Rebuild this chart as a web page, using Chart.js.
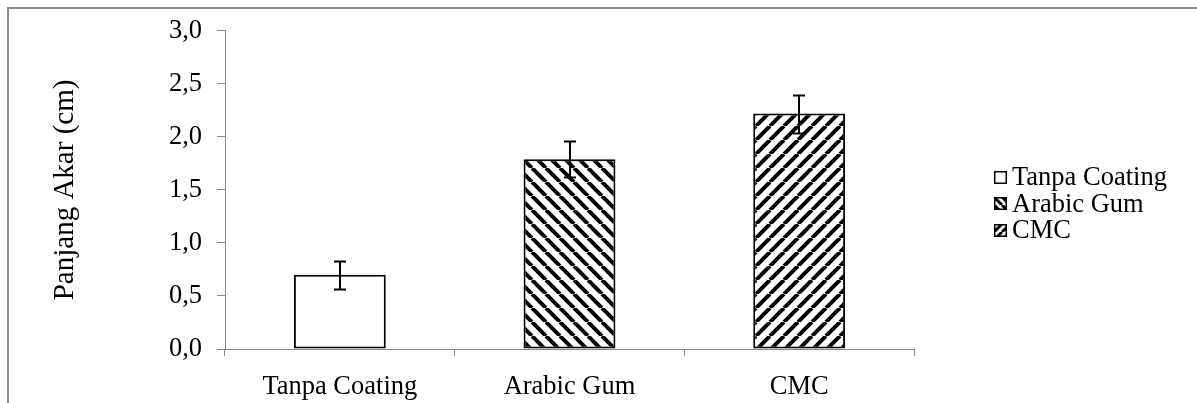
<!DOCTYPE html>
<html>
<head>
<meta charset="utf-8">
<script src="https://cdn.jsdelivr.net/npm/chart.js@4.4.1/dist/chart.umd.min.js"></script>
<style>
    body { margin: 0; background: #fff; }
    #wrap { position: relative; width: 1197px; height: 403px; overflow: hidden; }
    #frame { position: absolute; left: 7px; top: 7px; width: 1300px; height: 500px;
             border-left: 2px solid #8a8a8a; border-top: 2px solid #8a8a8a; pointer-events: none; }
    #legend { position: absolute; left: 994px; top: 163px; font-family: "Liberation Serif", serif;
              font-size: 26.5px; color: #000; }
    .row { height: 26.5px; line-height: 26.5px; display: flex; align-items: center; white-space: nowrap; }
    .row canvas { margin-right: 5px; margin-top: 2px; }
</style>
</head>
<body>
<div id="wrap">
    <canvas id="myChart" width="1197" height="403"></canvas>
    <div id="frame"></div>
    <div id="legend"></div>
</div>
<script>
const categories = ['Tanpa Coating', 'Arabic Gum', 'CMC'];
const meanValues = [0.70, 1.79, 2.22];
const errorValues = [0.13, 0.17, 0.18];
const fillTypes = ['none', 'back', 'forward'];   // blank, "\" stripes, "/" stripes
const yTicks = [0, 0.5, 1, 1.5, 2, 2.5, 3];

// stripe pattern for the bars
function makePattern(type, size, lw) {
    const c = document.createElement('canvas');
    c.width = size; c.height = size;
    const g = c.getContext('2d');
    g.fillStyle = '#fff';
    g.fillRect(0, 0, size, size);
    if (type === 'none') return g.createPattern(c, 'repeat');
    g.strokeStyle = '#000';
    g.lineWidth = lw;
    for (let k = -1; k <= 1; k++) {
        g.beginPath();
        if (type === 'back') {
            g.moveTo(k * size, 0);
            g.lineTo(k * size + size, size);
        } else {
            g.moveTo(k * size + size, 0);
            g.lineTo(k * size, size);
        }
        g.stroke();
    }
    return g.createPattern(c, 'repeat');
}

const ctx = document.getElementById('myChart').getContext('2d');
const barFills = fillTypes.map(t => makePattern(t, 14, 4));

const errorBars = {
    id: 'errorBars',
    afterDatasetsDraw(chart) {
        const meta = chart.getDatasetMeta(0);
        const y = chart.scales.y;
        const c = chart.ctx;
        c.save();
        c.strokeStyle = '#000';
        c.lineWidth = 2;
        meta.data.forEach((bar, i) => {
            const top = Math.round(y.getPixelForValue(meanValues[i] + errorValues[i])) + 0.5;
            const bot = Math.round(y.getPixelForValue(meanValues[i] - errorValues[i])) + 0.5;
            const x = Math.round(bar.x);
            c.beginPath();
            c.moveTo(x, top); c.lineTo(x, bot);
            c.moveTo(x - 6, top); c.lineTo(x + 6, top);
            c.moveTo(x - 6, bot); c.lineTo(x + 6, bot);
            c.stroke();
        });
        c.restore();
    }
};

new Chart(ctx, {
    type: 'bar',
    data: {
        labels: categories,
        datasets: [{
            data: meanValues,
            backgroundColor: barFills,
            borderColor: '#000',
            borderWidth: 2,
            borderSkipped: false,
            barPercentage: 0.4,
            categoryPercentage: 1
        }]
    },
    options: {
        responsive: false,
        animation: false,
        devicePixelRatio: 1,
        layout: { padding: { left: 38, right: 283, top: 29, bottom: 0 } },
        plugins: { legend: { display: false }, tooltip: { enabled: false } },
        scales: {
            x: {
                offset: true,
                grid: { offset: true, drawOnChartArea: false, tickLength: 7, color: '#898989' },
                border: { color: '#898989', width: 1 },
                ticks: { color: '#000', padding: 15, maxRotation: 0,
                         font: { family: 'Liberation Serif', size: 26.5 } },
                afterFit: (s) => { s.height = 54; }
            },
            y: {
                min: 0, max: 3,
                afterBuildTicks: (s) => { s.ticks = yTicks.map(v => ({ value: v })); },
                grid: { drawOnChartArea: false, tickLength: 8, color: '#898989' },
                border: { color: '#898989', width: 1 },
                ticks: { color: '#000', padding: 15,
                         font: { family: 'Liberation Serif', size: 26.5 },
                         callback: (v) => v.toFixed(1).replace('.', ',') },
                title: { display: true, text: 'Panjang Akar (cm)', color: '#000',
                         padding: { top: 10, bottom: 0 },
                         font: { family: 'Liberation Serif', size: 29, weight: 'normal' } },
                afterFit: (s) => { s.width = 225 - 38; }
            }
        }
    },
    plugins: [errorBars]
});

// legend
const legend = document.getElementById('legend');
categories.forEach((name, i) => {
    const row = document.createElement('div');
    row.className = 'row';
    const sw = document.createElement('canvas');
    sw.width = 13; sw.height = 13;
    const g = sw.getContext('2d');
    g.fillStyle = makePattern(fillTypes[i], 8, 3);
    g.fillRect(0, 0, 13, 13);
    g.strokeStyle = '#000';
    g.lineWidth = 1.5;
    g.strokeRect(0.75, 0.75, 11.5, 11.5);
    row.appendChild(sw);
    const t = document.createElement('span');
    t.textContent = name;
    row.appendChild(t);
    legend.appendChild(row);
});
</script>
</body>
</html>
